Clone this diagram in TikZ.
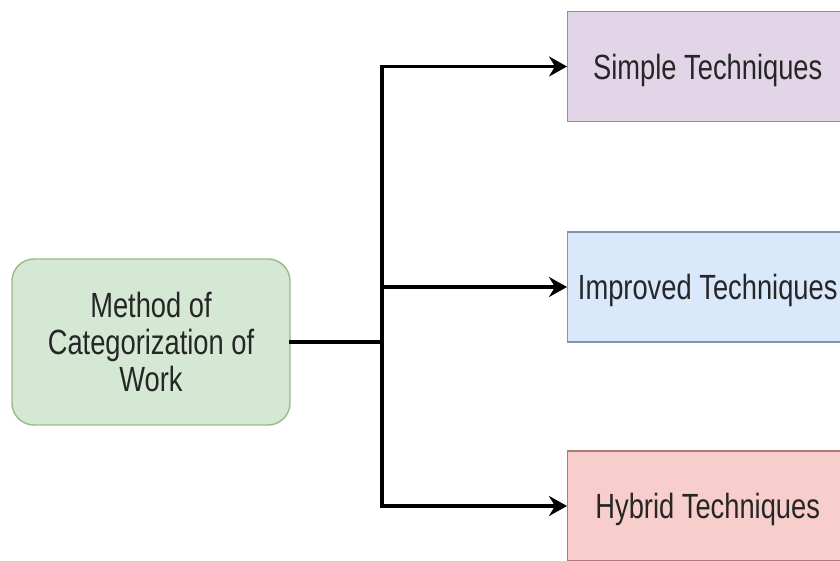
\documentclass[tikz,border=0pt]{standalone}
\usepackage{fontspec}
\newfontfamily\boxfont[FakeStretch=0.78]{Liberation Sans}
\usetikzlibrary{arrows.meta}
\definecolor{greenfill}{HTML}{D5E8D4}
\definecolor{greenline}{HTML}{9AB98A}
\definecolor{purplefill}{HTML}{E1D5E7}
\definecolor{purpleline}{HTML}{9A86A6}
\definecolor{bluefill}{HTML}{DAE8FC}
\definecolor{blueline}{HTML}{7F93AE}
\definecolor{redfill}{HTML}{F8CECC}
\definecolor{redline}{HTML}{B07A78}
\definecolor{inkgray}{HTML}{262626}
\tikzset{
  x=1pt, y=-1pt,
  box/.style={draw, line width=1.4pt, text=inkgray, align=center,
    font=\boxfont\fontsize{35}{37}\selectfont, inner sep=0pt},
  rootbox/.style={box, rounded corners=22pt, fill=greenfill, draw=greenline,
    minimum width=278pt, minimum height=166pt},
  leafbox/.style={box, minimum width=280pt, minimum height=110pt, anchor=west,
    text depth=0pt},
  link/.style={line width=3.2pt, line cap=rect, draw=black},
  arrowlink/.style={link, -{Stealth[length=18pt, width=20pt, inset=6pt]}}
}
\begin{document}
\begin{tikzpicture}
\useasboundingbox (0,0) rectangle (840,561);
\clip (0,0) rectangle (840,561);
\fill[white] (0,0) rectangle (840,561);

% root node
\node[rootbox] (root) at (151,342) {Method of\\Categorization of\\Work};

% the three categories
\node[leafbox, fill=purplefill, draw=purpleline] (simple) at (567,66.5) {Simple Techniques};
\node[leafbox, fill=bluefill, draw=blueline] (improved) at (567,287) {Improved Techniques};
\node[leafbox, fill=redfill, draw=redline] (hybrid) at (567,506) {Hybrid Techniques};

% branching point of the connectors
\coordinate (fork) at (382,342);

\draw[link] (root.east) -- (fork);
\draw[arrowlink] (fork) |- (simple.west);
\draw[arrowlink] (fork) |- (improved.west);
\draw[arrowlink] (fork) |- (hybrid.west);
\end{tikzpicture}
\end{document}
